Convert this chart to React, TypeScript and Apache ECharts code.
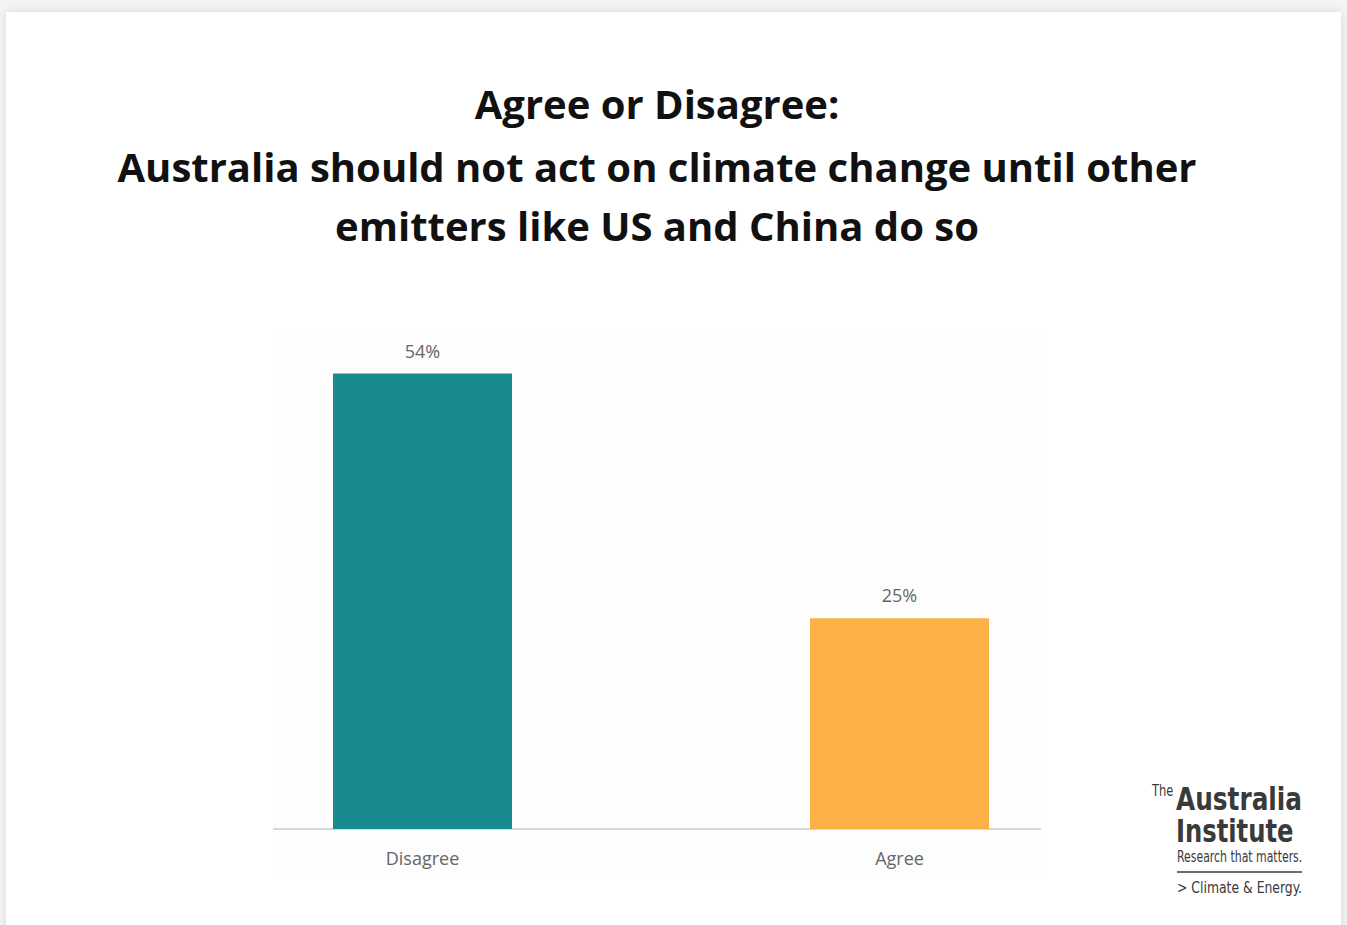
import React, { useEffect, useRef } from "react";
import * as echarts from "echarts";

const categories = ["Disagree", "Agree"];
const values = [54, 25];
const barColors = ["#178b8e", "#fbb146"];
const titleLines = [
  "Agree or Disagree:",
  "Australia should not act on climate change until other",
  "emitters like US and China do so",
];

const logoFont = "'DejaVu Sans Condensed', sans-serif";

export default function App() {
  const ref = useRef<HTMLDivElement>(null);
  useEffect(() => {
    const chart = echarts.init(ref.current!, null, { renderer: "svg" });
    chart.setOption({
      animation: false,
      backgroundColor: "#f4f4f4",
      graphic: [
        {
          type: "rect",
          z: -10,
          shape: { x: 6, y: 12, width: 1335, height: 930 },
          style: { fill: "#ffffff", shadowBlur: 8, shadowColor: "rgba(0,0,0,0.12)" },
          silent: true,
        },
        {
          type: "rect",
          z: -5,
          shape: { x: 273, y: 335, width: 768, height: 545 },
          style: { fill: "#fdfdfd" },
          silent: true,
        },
        {
          type: "line",
          z: 1,
          shape: { x1: 273, y1: 829, x2: 1041, y2: 829 },
          style: { stroke: "#d4d8da", lineWidth: 2 },
        },
        ...titleLines.map((t, i) => ({
          type: "text",
          x: 657,
          y: [103, 166, 225][i],
          style: {
            text: t,
            fill: "#111111",
            font: "bold 40px 'Open Sans', sans-serif",
            textAlign: "center",
            textVerticalAlign: "middle",
          },
        })),
        {
          type: "text",
          x: 1152,
          y: 791,
          scaleX: 0.85,
          style: { text: "The", fill: "#3a3a3a", font: `15px ${logoFont}`, textVerticalAlign: "middle" },
        },
        {
          type: "text",
          x: 1176,
          y: 799,
          scaleX: 0.95,
          scaleY: 1.1,
          style: { text: "Australia", fill: "#3a3a3a", font: `bold 29px ${logoFont}`, textVerticalAlign: "middle" },
        },
        {
          type: "text",
          x: 1176,
          y: 831,
          scaleX: 0.93,
          scaleY: 1.1,
          style: { text: "Institute", fill: "#3a3a3a", font: `bold 29px ${logoFont}`, textVerticalAlign: "middle" },
        },
        {
          type: "text",
          x: 1177,
          y: 857,
          scaleX: 0.81,
          style: { text: "Research that matters.", fill: "#3a3a3a", font: `15px ${logoFont}`, textVerticalAlign: "middle" },
        },
        {
          type: "line",
          shape: { x1: 1177, y1: 872, x2: 1302, y2: 872 },
          style: { stroke: "#3a3a3a", lineWidth: 1.5 },
        },
        {
          type: "text",
          x: 1177,
          y: 888,
          scaleX: 0.92,
          style: { text: "> Climate & Energy.", fill: "#3a3a3a", font: `15px ${logoFont}`, textVerticalAlign: "middle" },
        },
      ],
      grid: { left: 184, right: 209, top: 323, bottom: 96, containLabel: false },
      xAxis: {
        type: "category",
        data: categories,
        axisLine: { show: false },
        axisTick: { show: false },
        axisLabel: {
          color: "#666666",
          fontSize: 18,
          fontFamily: "'Open Sans', sans-serif",
          margin: 20,
        },
      },
      yAxis: {
        type: "value",
        min: 0,
        max: 60,
        show: false,
      },
      series: [
        {
          type: "bar",
          barWidth: 179,
          data: values.map((v, i) => ({ value: v, itemStyle: { color: barColors[i] } })),
          label: {
            show: true,
            position: "top",
            distance: 14,
            formatter: "{c}%",
            color: "#666666",
            fontSize: 18,
            fontFamily: "'Open Sans', sans-serif",
          },
        },
      ],
    });
    return () => chart.dispose();
  }, []);
  return <div ref={ref} style={{ position: "fixed", left: 0, top: 0, width: 1347, height: 925 }} />;
}
